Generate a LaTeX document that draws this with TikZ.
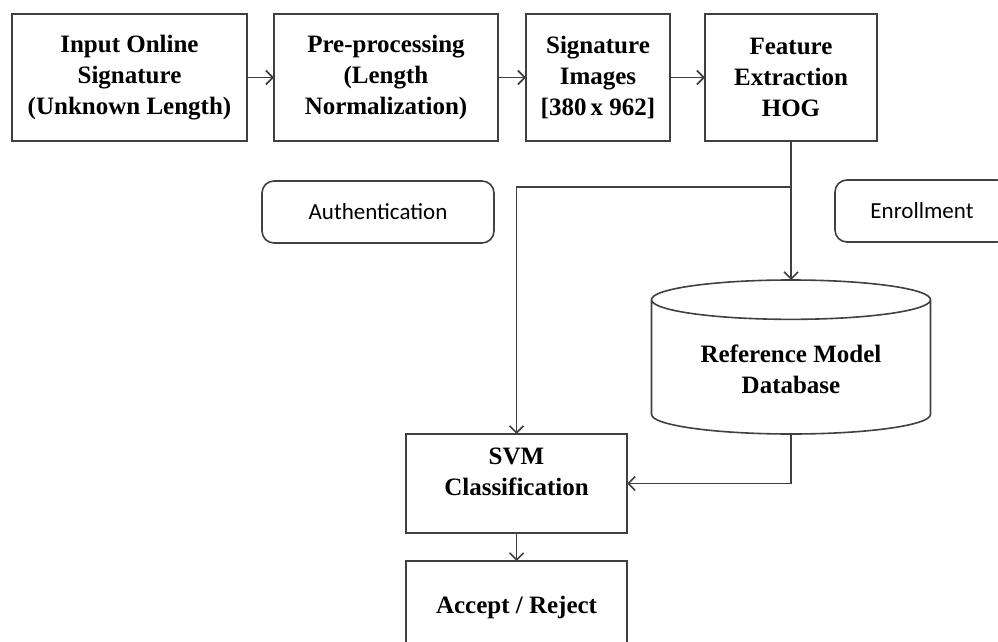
\documentclass[tikz,border=0pt]{standalone}
\usepackage{fontspec}
\setmainfont{Liberation Serif}
\newfontfamily\phasefont{Carlito}
\usetikzlibrary{positioning}
\usetikzlibrary{arrows.meta}
\usetikzlibrary{shapes.geometric}
\tikzset{x=1pt, y=-1pt, % One unit per pixel of the original figure
block/.style={ % Sets the properties for each processing box
draw=black!75,
line width=1.6pt,
outer sep=0pt,
align=center,
inner sep=2pt,
minimum height=127pt,
font=\fontsize{25}{31}\selectfont\bfseries},
phase/.style={ % Rounded boxes naming the two phases
draw=black!75,
line width=1.6pt,
rounded corners=12pt,
minimum width=232pt,
minimum height=62pt,
font=\fontsize{23}{28}\selectfont\phasefont},
database/.style={ % Cylinder for the stored models
cylinder,
shape border rotate=90,
shape aspect=0.21,
anchor=shape center,
draw=black!75,
line width=1.6pt,
outer sep=0pt,
align=center,
minimum width=279pt,
minimum height=154pt,
font=\fontsize{25}{31}\selectfont\bfseries},
>={Straight Barb[length=7pt,width=14pt]},
every edge/.style={ % Sets the properties for each connector
draw=black!75,
->,
line width=1.6pt}}

\begin{document}
\begin{tikzpicture}
\useasboundingbox (0,0) rectangle (998,642);
\node[block, minimum width=235pt] (input) at (129.5,77.5) {Input Online\\Signature\\(Unknown Length)};
\node[block, minimum width=224pt, right=27pt of input] (prep) {Pre-processing\\(Length\\Normalization)};
\node[block, minimum width=144pt, right=28pt of prep] (images) {Signature\\Images\\{}[380\,x 962]};
\node[block, minimum width=172pt, right=35pt of images] (hog) {Feature\\Extraction\\HOG};
\node[phase] (auth) at (378,212) {Authentication};
\node[phase, minimum width=174pt] (enrol) at (922,211) {Enrollment};
\node[database] (db) at (791,357) {Reference Model\\Database};
\node[block, minimum width=221pt, minimum height=99pt, text depth=24pt] (svm) at (516.5,483.5) {SVM\\Classification};
\node[block, minimum width=221pt, minimum height=92pt, below=28pt of svm] (decision) {Accept / Reject};
\coordinate[below=46pt of hog] (split);
\draw (input) edge (prep) (prep) edge (images) (images) edge (hog);
\draw (hog) edge (db);
\draw (split) edge[to path={-| (\tikztotarget)}] (svm);
\draw (db) edge[to path={|- (\tikztotarget)}] (svm);
\draw (svm) edge (decision);
\end{tikzpicture}
\end{document}
